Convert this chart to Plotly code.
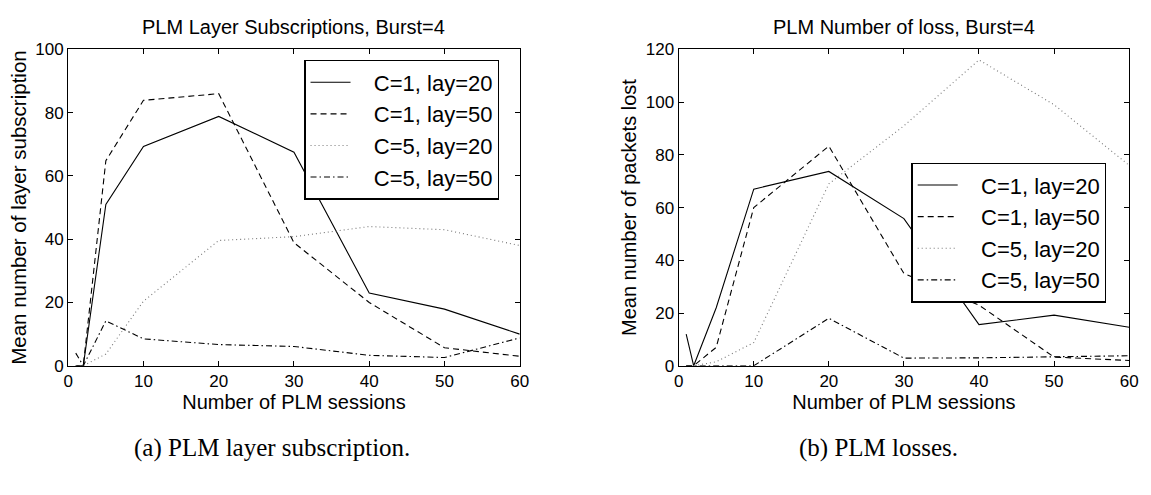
import plotly.graph_objects as go

# ---- data ----
sessions = [1, 2, 5, 10, 20, 30, 40, 50, 60]
series_names = ["C=1, lay=20", "C=1, lay=50", "C=5, lay=20", "C=5, lay=50"]

# (a) layer subscription
sub_c1_l20 = [0, 0, 51, 69.3, 78.8, 67.5, 23, 17.9, 10]
sub_c1_l50 = [0, 0, 64.8, 83.9, 86, 38.9, 20, 5.7, 3]
sub_c5_l20 = [0, 0, 3.7, 20.4, 39.6, 40.8, 44, 43, 38]
sub_c5_l50 = [4, 0, 14.2, 8.5, 6.7, 6.1, 3.3, 2.6, 8.8]

# (b) losses
loss_c1_l20 = [12, 0, 22, 67, 73.7, 55.8, 15.6, 19.2, 14.6]
loss_c1_l50 = [0, 0, 7, 60, 83.3, 35, 23, 3.3, 2]
loss_c5_l20 = [0, 0, 1.5, 8.8, 69, 91, 116, 99, 76]
loss_c5_l50 = [0, 0, 0, 0, 18, 2.9, 3, 3.3, 3.8]

x_ticks = [0, 10, 20, 30, 40, 50, 60]

FONT = "Liberation Sans, Arial, sans-serif"
SERIF = "Liberation Serif, Times New Roman, serif"

styles = [
    dict(color="black", width=1.1, dash="solid"),
    dict(color="black", width=1.1, dash="6px,4px"),
    dict(color="#777777", width=1.1, dash="1px,3px"),
    dict(color="black", width=1.1, dash="6px,3px,1.5px,3px"),
]

fig = go.Figure()

sub_data = [sub_c1_l20, sub_c1_l50, sub_c5_l20, sub_c5_l50]
loss_data = [loss_c1_l20, loss_c1_l50, loss_c5_l20, loss_c5_l50]
PAD = "\u00a0\u00a0\u00a0"

for name, ys, st in zip(series_names, sub_data, styles):
    fig.add_trace(go.Scatter(x=sessions, y=ys, mode="lines", name=PAD + name, line=st,
                             xaxis="x", yaxis="y", legend="legend"))
for name, ys, st in zip(series_names, loss_data, styles):
    fig.add_trace(go.Scatter(x=sessions, y=ys, mode="lines", name=PAD + name, line=st,
                             xaxis="x2", yaxis="y2", legend="legend2"))

axis_common = dict(
    showgrid=False, zeroline=False, showline=True, linecolor="black", linewidth=1.2,
    mirror="ticks", ticks="inside", ticklen=5, tickcolor="black", tickwidth=1,
    tickfont=dict(family=FONT, size=17, color="black"),
)

def tfont(size):
    return dict(family=FONT, size=size, color="black")

ydom = [0.2505, 0.9152]
fig.update_layout(
    width=1151, height=495,
    margin=dict(l=0, r=0, t=0, b=0),
    paper_bgcolor="white", plot_bgcolor="white",
    xaxis=dict(domain=[0.0556, 0.4527], range=[0, 60], tickvals=x_ticks, anchor="y",
               title=dict(text="Number of PLM sessions", standoff=0, font=tfont(20)),
               **axis_common),
    yaxis=dict(domain=ydom, range=[0, 100], tickvals=[0, 20, 40, 60, 80, 100], anchor="x",
               title=dict(text="Mean number of layer subscription", standoff=3, font=tfont(20.5)),
               **axis_common),
    xaxis2=dict(domain=[0.5925, 0.9887], range=[0, 60], tickvals=x_ticks, anchor="y2",
                title=dict(text="Number of PLM sessions", standoff=0, font=tfont(20)),
                **axis_common),
    yaxis2=dict(domain=ydom, range=[0, 120], tickvals=[0, 20, 40, 60, 80, 100, 120], anchor="x2",
                title=dict(text="Mean number of packets lost", standoff=3, font=tfont(20)),
                **axis_common),
    legend=dict(x=0.263, y=0.893, xanchor="left", yanchor="top",
                bgcolor="white", bordercolor="black", borderwidth=1.5,
                font=tfont(22), tracegroupgap=0, itemwidth=40),
    legend2=dict(x=0.797, y=0.677, xanchor="left", yanchor="top",
                 bgcolor="white", bordercolor="black", borderwidth=1.5,
                 font=tfont(22), tracegroupgap=0, itemwidth=40),
    showlegend=True,
)

annotations = [
    dict(text="PLM Layer Subscriptions, Burst=4", x=292 / 1151, y=1 - 19 / 495, xref="paper", yref="paper",
         showarrow=False, xanchor="center", yanchor="middle", font=tfont(20)),
    dict(text="PLM Number of loss, Burst=4", x=910 / 1151, y=1 - 19 / 495, xref="paper", yref="paper",
         showarrow=False, xanchor="center", yanchor="middle", font=tfont(20)),
    dict(text="(a) PLM layer subscription.", x=270 / 1151, y=1 - 457 / 495, xref="paper", yref="paper",
         showarrow=False, xanchor="center", yanchor="middle",
         font=dict(family=SERIF, size=25, color="black")),
    dict(text="(b) PLM losses.", x=884 / 1151, y=1 - 457 / 495, xref="paper", yref="paper",
         showarrow=False, xanchor="center", yanchor="middle",
         font=dict(family=SERIF, size=25, color="black")),
]
fig.update_layout(annotations=annotations)

fig.write_html("out.html")
